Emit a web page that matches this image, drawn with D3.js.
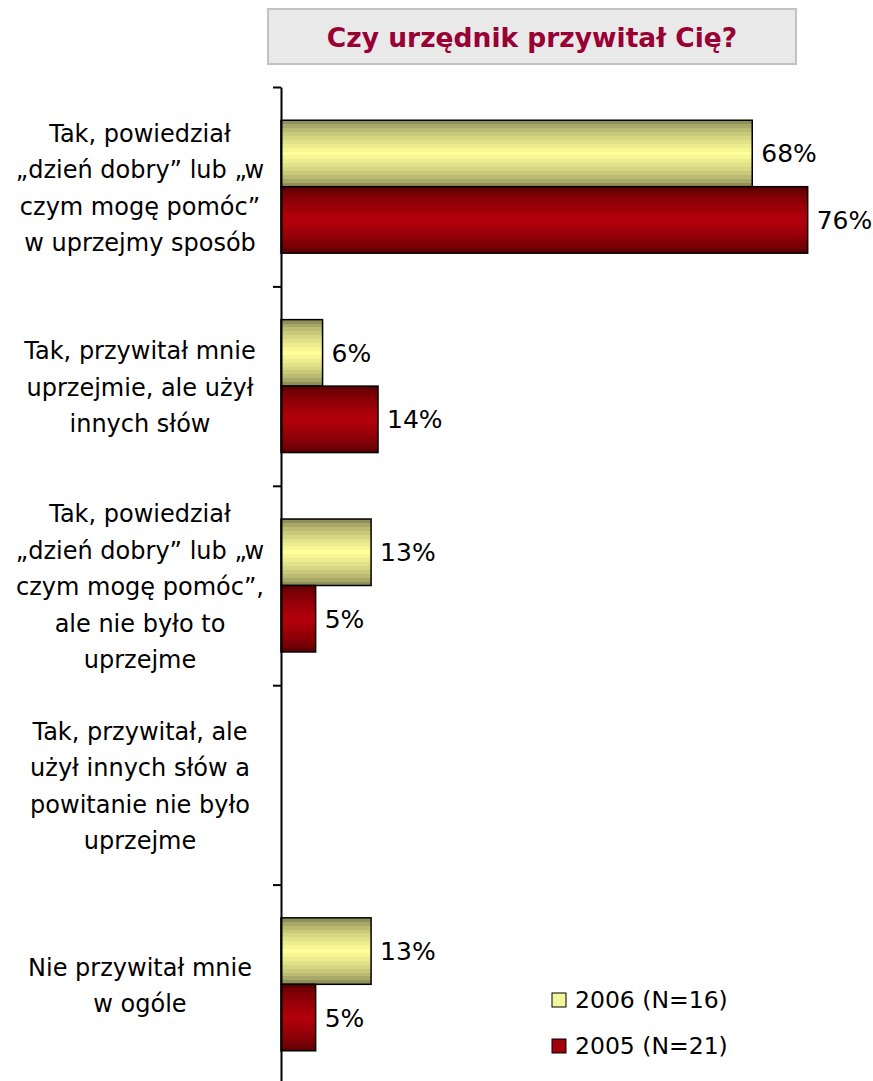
<!DOCTYPE html>
<html>
<head>
<meta charset="utf-8">
<script src="https://cdn.jsdelivr.net/npm/d3@7/dist/d3.min.js"></script>
<style>
  html, body { margin: 0; padding: 0; background: #fff; }
  svg { display: block; }
  text { font-family: "DejaVu Sans", Verdana, sans-serif; }
</style>
</head>
<body>
<svg id="chart" width="873" height="1081"></svg>
<script>
// Survey answers (each label split into display lines)
const categories = [
  ["Tak, powiedział", "„dzień dobry” lub „w", "czym mogę pomóc”", "w uprzejmy sposób"],
  ["Tak, przywitał mnie", "uprzejmie, ale użył", "innych słów"],
  ["Tak, powiedział", "„dzień dobry” lub „w", "czym mogę pomóc”,", "ale nie było to", "uprzejme"],
  ["Tak, przywitał, ale", "użył innych słów a", "powitanie nie było", "uprzejme"],
  ["Nie przywitał mnie", "w ogóle"]
];
const seriesNames = ["2006 (N=16)", "2005 (N=21)"];
const values2006 = [68, 6, 13, null, 13];
const values2005 = [76, 14, 5, null, 5];
const titleText = "Czy urzędnik przywitał Cię?";

const svg = d3.select("#chart");
const defs = svg.append("defs");

// Banded cylinder-like gradients for the two series
function bandedGradient(id, edge, mid, steps) {
  const g = defs.append("linearGradient").attr("id", id)
    .attr("x1", 0).attr("y1", 0).attr("x2", 0).attr("y2", 1);
  const interp = d3.interpolateRgb(edge, mid);
  for (let i = 0; i < steps; i++) {
    const c = 1 - Math.abs((i + 0.5) / steps - 0.5) * 2;
    const col = interp(Math.pow(c, 0.55));
    g.append("stop").attr("offset", i / steps).attr("stop-color", col);
    g.append("stop").attr("offset", (i + 1) / steps).attr("stop-color", col);
  }
}
bandedGradient("g2006", "#727248", "#ffff9a", 17);
bandedGradient("g2005", "#4a0000", "#b4000c", 17);
const fills = ["url(#g2006)", "url(#g2005)"];
const legendFills = ["#f4f49a", "#a00008"];

const axisX = 281, plotTop = 87, plotBottom = 1084;

const x = d3.scaleLinear().domain([0, 100]).range([axisX, axisX + 693]);
const y = d3.scaleBand().domain(d3.range(categories.length)).range([plotTop, plotBottom]).padding(0);
const ySeries = d3.scaleBand().domain([0, 1]).range([0, y.bandwidth()])
  .paddingInner(0).paddingOuter(0.5);

// Title box
svg.append("rect").attr("x", 268).attr("y", 9).attr("width", 528).attr("height", 55)
  .attr("fill", "#e9e9e9").attr("stroke", "#c2c2c2").attr("stroke-width", 2);
svg.append("text").attr("x", 532).attr("y", 37).attr("dy", "0.36em")
  .attr("text-anchor", "middle").attr("font-size", 26.5).attr("font-weight", "bold")
  .attr("fill", "#990033").text(titleText);

// Bars
const rows = categories.map((c, i) => ({ i, vals: [values2006[i], values2005[i]] }));
const groups = svg.append("g").selectAll("g").data(rows).join("g")
  .attr("transform", d => `translate(0,${y(d.i)})`);

groups.each(function (d) {
  const g = d3.select(this);
  d.vals.forEach((v, s) => {
    if (v == null) return;
    g.append("rect")
      .attr("x", x(0)).attr("y", ySeries(s))
      .attr("width", x(v) - x(0)).attr("height", ySeries.bandwidth())
      .attr("fill", fills[s]).attr("stroke", "#000").attr("stroke-width", 1.5);
    g.append("text")
      .attr("x", x(v) + 9).attr("y", ySeries(s) + ySeries.bandwidth() / 2).attr("dy", "0.36em")
      .attr("font-size", 25).attr("fill", "#000").text(v + "%");
  });
});

// Category axis with ticks at the band boundaries
const yEdges = d3.scaleLinear().domain([0, categories.length]).range([plotTop, plotBottom]);
svg.append("g").attr("transform", `translate(${axisX},0)`)
  .call(d3.axisLeft(yEdges).tickValues(d3.range(categories.length + 1))
    .tickSize(8).tickSizeOuter(0).tickFormat(""))
  .call(g => g.selectAll("path,line").attr("stroke", "#000").attr("stroke-width", 2));

// Category labels
const lineH = 36.5;
svg.append("g").selectAll("text").data(categories).join("text")
  .attr("text-anchor", "middle").attr("font-size", 24).attr("fill", "#000")
  .each(function (lines, i) {
    const cy = y(i) + y.bandwidth() / 2 + 1;
    const t = d3.select(this);
    lines.forEach((ln, k) => {
      t.append("tspan").attr("x", 140)
        .attr("y", cy + (k - (lines.length - 1) / 2) * lineH)
        .attr("dy", "0.36em").text(ln);
    });
  });

// Legend
const legend = svg.append("g").selectAll("g").data(seriesNames).join("g")
  .attr("transform", (d, i) => `translate(552,${1000 + i * 46})`);
legend.append("rect").attr("x", 0).attr("y", -7).attr("width", 14).attr("height", 14)
  .attr("fill", (d, i) => legendFills[i]).attr("stroke", "#000").attr("stroke-width", 1);
legend.append("text").attr("x", 23).attr("y", 0).attr("dy", "0.36em")
  .attr("font-size", 23.5).attr("fill", "#000").text(d => d);
</script>
</body>
</html>
